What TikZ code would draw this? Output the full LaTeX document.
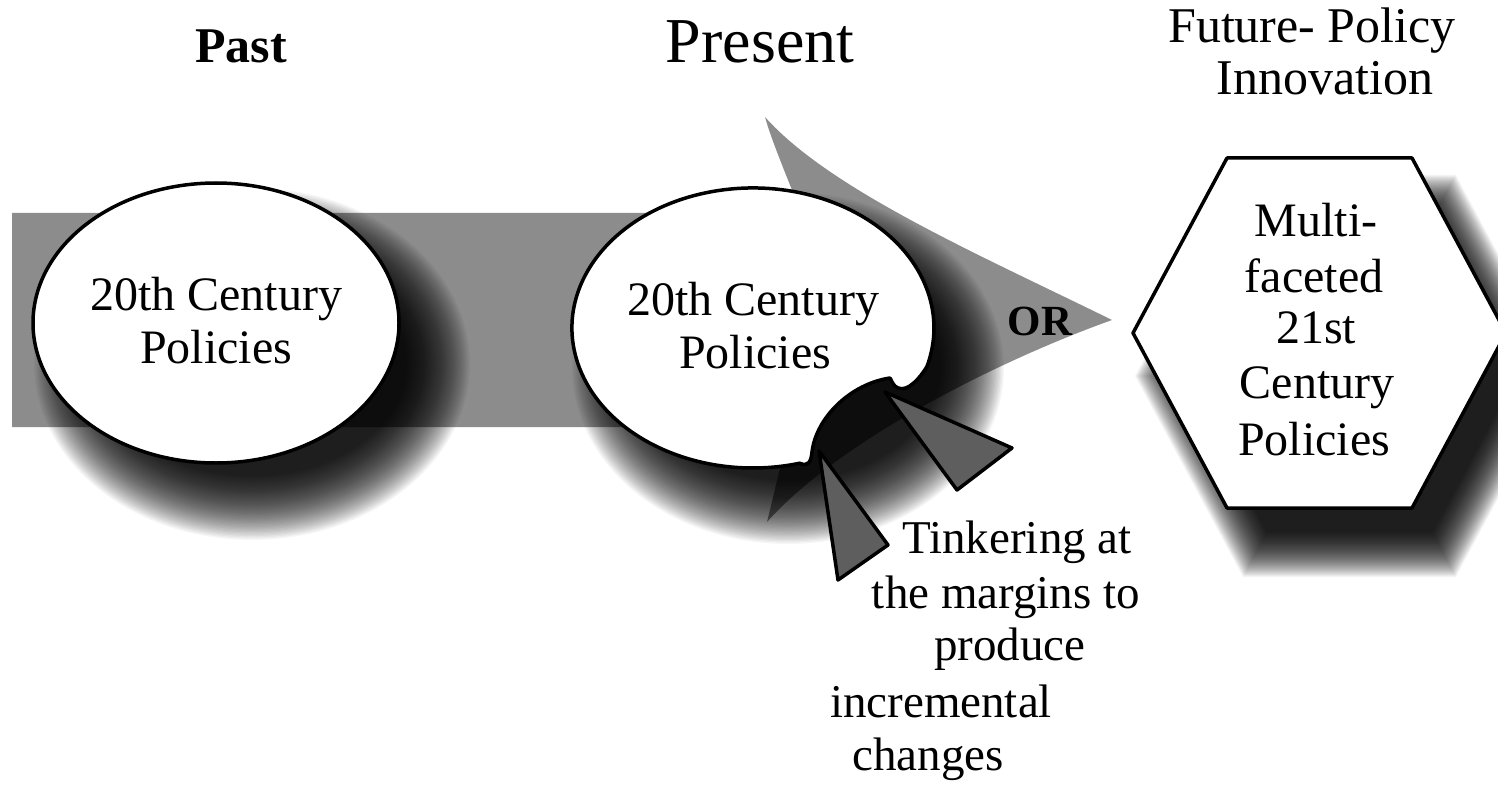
\documentclass[tikz,border=0pt]{standalone}
\usepackage{fontspec}
\setmainfont{Liberation Serif}
\usetikzlibrary{shapes.geometric}
\definecolor{bandgray}{RGB}{140,140,140}
\definecolor{spikegray}{RGB}{94,94,94}
\begin{document}
\begin{tikzpicture}[x=1pt,y=-1pt,
  lbl/.style={inner sep=0pt, anchor=base, font=\fontsize{48}{56}\selectfont},
  tklbl/.style={inner sep=0pt, anchor=base, font=\fontsize{47}{54}\selectfont},
  hexlbl/.style={inner sep=0pt, anchor=base, font=\fontsize{48}{56}\selectfont},
  orlbl/.style={inner sep=0pt, anchor=base, font=\fontsize{43}{50}\selectfont\bfseries},
  outl/.style={draw=black, line width=3.5pt, line join=round},
  spikeshape/.style={outl, fill=spikegray},
  shadowlayer/.style={fill=black, opacity=0.036}]
\useasboundingbox (0,0) rectangle (1498,786);
\clip (0,0) rectangle (1498,786);
\fill[white] (0,0) rectangle (1498,786);

% band and arrowhead
\fill[bandgray] (12,213) -- (800,213) -- (792,190) .. controls (780,160) and (770,135) .. (765,117)
  .. controls (830,190) and (980,255) .. (1112,320)
  .. controls (1000,360) and (840,440) .. (767,522) -- (790,427) -- (12,427) -- cycle;

% soft shadows
\foreach \k in {0,...,49} {
  \fill[shadowlayer] (252,364) ellipse ({218-1.3*\k} and {176-1.3*\k});
  \fill[shadowlayer] (788,368) ellipse ({216-1.3*\k} and {176-1.3*\k});
  \begin{scope}[shift={(1350,376)}, scale={1.15-0.0052*\k}]
    \fill[shadowlayer] (-93,-175) -- (92,-175) -- (186,0) -- (92,175) -- (-93,175) -- (-187,0) -- cycle;
  \end{scope}
}

% past ellipse
\node[outl, fill=white, ellipse, minimum width=366pt, minimum height=280pt, inner sep=0pt] (pastell) at (216,323) {};

% present ellipse with notch
\filldraw[outl, fill=white] (799.8,463.2) arc[start angle=75, end angle=376, x radius=181, y radius=140]
  .. controls (920,378) and (908,392) .. (898,388)
  .. controls (893,386) and (892,381) .. (890,378)
  .. controls (850,384) and (816,418) .. (812,452)
  .. controls (811,462) and (808,467) .. (799.8,463.2) -- cycle;

% spikes
\filldraw[spikeshape] (885,392) -- (1012,448) -- (957,490) -- cycle;
\filldraw[spikeshape] (819,451) -- (888,545) -- (838,580) -- cycle;

% future hexagon
\filldraw[outl, fill=white] (1227,158) -- (1412,158) -- (1506,333) -- (1412,508) -- (1227,508) -- (1133,333) -- cycle;

% titles
\node[inner sep=0pt, anchor=base, font=\fontsize{50}{60}\selectfont\bfseries] (tpast) at (241,63) {Past};
\node[inner sep=0pt, anchor=base, font=\fontsize{64}{72}\selectfont] (tpresent) at (760,63) {Present};
\node[inner sep=0pt, anchor=base, font=\fontsize{50}{58}\selectfont] (tfut1) at (1312,43) {Future- Policy};
\node[inner sep=0pt, anchor=base, font=\fontsize{50}{58}\selectfont] (tfut2) at (1325,95) {Innovation};

% ellipse texts
\node[lbl] (p1a) at (216,310) {20th Century};
\node[lbl] (p1b) at (216,363) {Policies};
\node[lbl] (p2a) at (753,315) {20th Century};
\node[lbl] (p2b) at (755,368) {Policies};

% OR
\node[orlbl] (orl) at (1040,335) {OR};

% tinkering
\node[tklbl] (tk1) at (1017,553) {Tinkering at};
\node[tklbl] (tk2) at (1006,608) {the margins to};
\node[tklbl] (tk3) at (1010,660) {produce};
\node[tklbl] (tk4) at (941,717) {incremental};
\node[tklbl] (tk5) at (928,770) {changes};

% hexagon text
\node[hexlbl] (h1) at (1316,237) {Multi-};
\node[hexlbl] (h2) at (1314,292) {faceted};
\node[hexlbl] (h3) at (1316,343) {21st};
\node[hexlbl] (h4) at (1317,398) {Century};
\node[hexlbl] (h5) at (1314,455) {Policies};
\end{tikzpicture}
\end{document}
